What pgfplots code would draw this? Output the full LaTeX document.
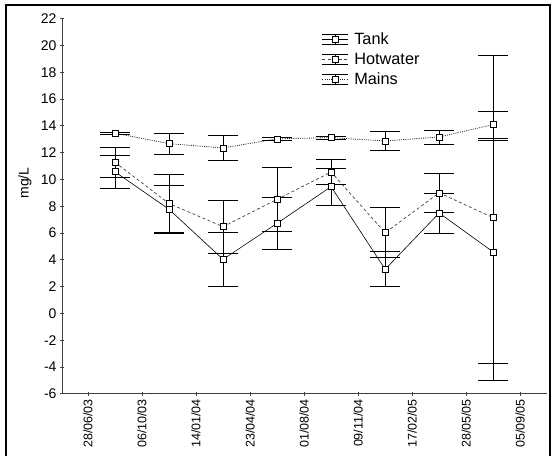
\documentclass[border=0pt]{standalone}
\usepackage{fontspec}
\setmainfont{Liberation Sans}
\usepackage{pgfplots}
\pgfplotsset{compat=1.18}
\begin{document}
\begin{tikzpicture}
\useasboundingbox (0,0) rectangle (553bp,456bp);
\draw[line width=2bp] (6bp,-2bp) -- (6bp,451bp) -- (550bp,451bp) -- (550bp,-2bp);
\begin{axis}[
  at={(62bp,62.3bp)}, anchor=south west,
  scale only axis, width=484.7bp, height=375bp,
  axis x line*=bottom, axis y line*=left,
  axis line style={black!75, line width=0.8bp},
  xmin=-0.48, xmax=8.49, ymin=-6, ymax=22,
  xtick={0,...,8},
  xticklabels={28/06/03,06/10/03,14/01/04,23/04/04,01/08/04,09/11/04,17/02/05,28/05/05,05/09/05},
  ytick={-6,-4,...,22},
  tick align=center, major tick length=4bp,
  tick style={black!75, line width=0.8bp},
  /pgf/number format/assume math mode=true,
  yticklabel style={font=\fontsize{14bp}{16bp}\selectfont},
  xticklabel style={font=\fontsize{12.5bp}{14bp}\selectfont, rotate=90, anchor=east},
  ylabel={mg/L},
  every axis y label/.style={at={(axis description cs:-0.0763,0.562)}, rotate=90, anchor=center, font=\fontsize{14bp}{16bp}\selectfont},
  clip=false,
  legend style={at={(rel axis cs:0.536,0.968)}, anchor=north west, draw=none, fill=none,
     font=\fontsize{16.3bp}{18bp}\selectfont, row sep=3bp, inner sep=0pt,
     nodes={inner sep=2bp},
     /tikz/every odd column/.append style={column sep=3.5bp}},
  legend cell align=left,
  legend image code/.code={%
    \draw[black, line width=0.6bp, solid] (0bp,-5bp) -- (26bp,-5bp) (0bp,5bp) -- (26bp,5bp) (13bp,-5bp) -- (13bp,5bp);
    \draw[mark repeat=2,mark phase=2,#1] plot coordinates {(0bp,0bp) (13bp,0bp) (26bp,0bp)};
  },
  error bars/y dir=both, error bars/y explicit,
  error bars/error mark=|,
  error bars/error mark options={black, line width=0.8bp, mark size=15bp, solid},
  error bars/error bar style={black, line width=0.8bp, solid},
]
\addplot[black, line width=0.6bp, solid, mark=square*, mark size=3bp, mark options={solid, fill=white, draw=black, line width=0.6bp}]
 table[x=x, y=y, y error=e] {
x y e
0.5 10.57 1.25
1.5 7.77 1.75
2.5 4.03 2.0
3.5 6.72 1.95
4.5 9.46 1.37
5.5 3.29 1.3
6.5 7.49 1.5
7.5 4.58 8.34
};
\addlegendentry{Tank}
\addplot[black!75, line width=0.7bp, dash pattern=on 3bp off 2.5bp, mark=square*, mark size=3bp, mark options={solid, fill=white, draw=black, line width=0.6bp}]
 table[x=x, y=y, y error=e] {
x y e
0.5 11.28 1.1
1.5 8.2 2.2
2.5 6.47 2.0
3.5 8.51 2.36
4.5 10.55 0.95
5.5 6.02 1.87
6.5 9.0 1.45
7.5 7.14 12.14
};
\addlegendentry{Hotwater}
\addplot[black!85, line width=0.8bp, dash pattern=on 1bp off 1.2bp, mark=square*, mark size=3bp, mark options={solid, fill=white, draw=black, line width=0.6bp}]
 table[x=x, y=y, y error=e] {
x y e
0.5 13.45 0.08
1.5 12.67 0.77
2.5 12.35 0.95
3.5 13.03 0.08
4.5 13.12 0.1
5.5 12.87 0.68
6.5 13.17 0.52
7.5 14.09 1.02
};
\addlegendentry{Mains}
\end{axis}
\end{tikzpicture}
\end{document}
